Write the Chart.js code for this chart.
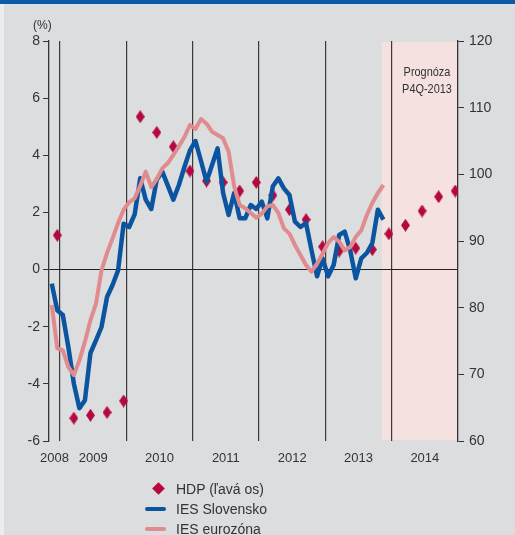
<!DOCTYPE html>
<html>
<head>
<meta charset="utf-8">
<script src="https://cdn.jsdelivr.net/npm/chart.js@4"></script>
<style>
  body { margin: 0; background: #dcdddf; }
  #wrap { position: relative; width: 515px; height: 535px; overflow: hidden; font-family: 'Liberation Sans', Arial, sans-serif; color: #333; }
  #topbar { position: absolute; left: 0; top: 0; width: 515px; height: 4px; background: #0b5ba6; }
  #leftstrip { position: absolute; left: 0; top: 4px; width: 4px; height: 531px; background: #ecedee; }
  canvas { position: absolute; left: 0; top: 0; }
  #unit { position: absolute; left: 33px; top: 18px; font-size: 12px; }
  #prog { position: absolute; left: 387px; top: 63px; width: 80px; text-align: center; font-size: 13px; line-height: 17px; color: #333; transform: scaleX(0.84); transform-origin: 40px 0; }
  #legend { position: absolute; left: 145px; top: 479px; font-size: 14px; }
  #legend div { height: 20px; line-height: 20px; position: relative; padding-left: 31px; }
  .sw { position: absolute; left: 0; top: 8px; width: 21px; height: 4px; border-radius: 2px; }
  .dia { position: absolute; left: 9px; top: 5px; width: 9px; height: 9px; background: #b5083f; transform: rotate(45deg); }
</style>
</head>
<body>
<div id="wrap">
  <div id="leftstrip"></div>
  <canvas id="chart" width="515" height="535"></canvas>
  <div id="topbar"></div>
  <div id="unit">(%)</div>
  <div id="prog">Prognóza<br>P4Q-2013</div>
  <div id="legend">
    <div><span class="dia"></span>HDP (ľavá os)</div>
    <div><span class="sw" style="background:#0b54a0"></span>IES Slovensko</div>
    <div><span class="sw" style="background:#e08c8e"></span>IES eurozóna</div>
  </div>
</div>
<script>
// monthly series start in Nov 2008
const iesStartYear = 2008;
const iesStartMonth = 11;

// IES Slovensko (right axis), Nov 2008 - Nov 2013
const iesSlovensko = [
  83.6, 79.6,
  78.9, 74.1, 68.6, 64.9, 66.1, 73.2, 75.1, 77.1, 81.6, 83.4, 85.6, 92.6,
  92.1, 94.0, 99.4, 96.2, 94.8, 99.2, 100.4, 98.3, 96.2, 98.4, 101.1, 103.6,
  105.0, 102.0, 98.9, 101.4, 103.9, 97.2, 93.9, 97.2, 93.4, 93.4, 95.4, 94.8,
  95.9, 93.4, 98.2, 99.4, 97.9, 96.9, 92.9, 92.1, 92.7, 88.6, 84.7, 87.4,
  84.7, 86.4, 90.9, 91.4, 88.6, 84.4, 87.4, 88.2, 89.7, 94.7, 93.2
];

// IES eurozóna (right axis), Nov 2008 - Nov 2013
const iesEurozona = [
  80.4, 73.9,
  73.6, 71.1, 69.9, 72.1, 74.9, 78.1, 80.6, 85.6, 88.2, 90.4, 92.7, 94.7,
  95.8, 96.4, 98.3, 100.4, 98.1, 99.3, 100.9, 101.7, 102.9, 104.2, 105.6, 107.4,
  106.8, 108.3, 107.6, 106.4, 105.9, 105.4, 103.4, 98.2, 95.4, 94.9, 94.2, 93.5,
  94.1, 95.2, 95.4, 94.2, 91.9, 91.1, 89.4, 87.9, 86.4, 85.4, 86.6, 88.1,
  89.7, 90.6, 89.9, 88.6, 89.1, 90.6, 91.6, 93.9, 95.7, 97.2, 98.4
];

// HDP y/y (left axis), quarterly, forecast from Q4 2013
const hdpQuarters = [
  '2008-Q4',
  '2009-Q1', '2009-Q2', '2009-Q3', '2009-Q4',
  '2010-Q1', '2010-Q2', '2010-Q3', '2010-Q4',
  '2011-Q1', '2011-Q2', '2011-Q3', '2011-Q4',
  '2012-Q1', '2012-Q2', '2012-Q3', '2012-Q4',
  '2013-Q1', '2013-Q2', '2013-Q3', '2013-Q4',
  '2014-Q1', '2014-Q2', '2014-Q3', '2014-Q4'
];
const hdp = [
  1.2,
  -5.2, -5.1, -5.0, -4.6,
  5.35, 4.8, 4.3, 3.45,
  3.1, 3.05, 2.75, 3.05,
  2.6, 2.1, 1.75, 0.8,
  0.65, 0.75, 0.7, 1.25,
  1.55, 2.05, 2.55, 2.75
];

const yearLabels = ['2008', '2009', '2010', '2011', '2012', '2013', '2014'];
const leftTicks = [-6, -4, -2, 0, 2, 4, 6, 8];
const rightTicks = [60, 70, 80, 90, 100, 110, 120];
const forecastStart = 2013.85;

const xMin = iesStartYear + (iesStartMonth - 1) / 12;
const xMax = 2015;

// month index -> position in years (middle of month)
function monthPos(i) {
    return xMin + (i + 0.5) / 12;
}
function quarterPos(q) {
    const [year, qq] = q.split('-Q');
    return Number(year) + (Number(qq) * 3 - 0.5) / 12;
}

// year label sits in the middle of the visible part of the year
const yearTickPos = {};
yearLabels.forEach(y => {
    const a = Math.max(Number(y), xMin);
    const b = Math.min(Number(y) + 1, xMax);
    yearTickPos[((a + b) / 2).toFixed(4)] = y;
});
const xTicks = [];
yearLabels.forEach(y => {
    if (Number(y) > xMin) xTicks.push(Number(y));
});
Object.keys(yearTickPos).forEach(k => xTicks.push(Number(k)));
xTicks.sort((a, b) => a - b);

function diamond(w, h, color) {
    const c = document.createElement('canvas');
    c.width = w;
    c.height = h;
    const g = c.getContext('2d');
    g.fillStyle = color;
    g.beginPath();
    g.moveTo(w / 2, 0);
    g.lineTo(w, h / 2);
    g.lineTo(w / 2, h);
    g.lineTo(0, h / 2);
    g.closePath();
    g.fill();
    return c;
}

// pink forecast band, drawn below grid and data
const forecastBand = {
    id: 'forecastBand',
    beforeDraw(chart) {
        const { ctx, chartArea, scales } = chart;
        const x0 = scales.x.getPixelForValue(forecastStart);
        ctx.save();
        ctx.fillStyle = '#f4e1e0';
        ctx.fillRect(x0, chartArea.top + 1, chartArea.right - x0, chartArea.bottom - chartArea.top - 2);
        ctx.restore();
    }
};

Chart.defaults.font.family = "'Liberation Sans', Arial, sans-serif";
Chart.defaults.color = '#333';

new Chart(document.getElementById('chart').getContext('2d'), {
    type: 'line',
    data: {
        datasets: [
            {
                label: 'IES eurozóna',
                data: iesEurozona.map((v, i) => ({ x: monthPos(i), y: v })),
                yAxisID: 'y1',
                borderColor: '#e08c8e',
                borderWidth: 4,
                pointRadius: 0,
                tension: 0,
                borderJoinStyle: 'round',
            },
            {
                label: 'IES Slovensko',
                data: iesSlovensko.map((v, i) => ({ x: monthPos(i), y: v })),
                yAxisID: 'y1',
                borderColor: '#0b54a0',
                borderWidth: 4.5,
                pointRadius: 0,
                tension: 0,
                borderJoinStyle: 'round',
            },
            {
                label: 'HDP (ľavá os)',
                data: hdp.map((v, i) => ({ x: quarterPos(hdpQuarters[i]), y: v })),
                yAxisID: 'y',
                showLine: false,
                pointStyle: diamond(9, 13, '#b5083f'),
                pointRadius: 6,
                backgroundColor: '#b5083f',
            },
        ],
    },
    options: {
        responsive: false,
        animation: false,
        events: [],
        layout: { padding: { top: 41, bottom: 64, left: 0, right: 0 } },
        plugins: { legend: { display: false }, tooltip: { enabled: false } },
        scales: {
            x: {
                type: 'linear',
                min: xMin,
                max: xMax,
                afterBuildTicks: axis => { axis.ticks = xTicks.map(v => ({ value: v })); },
                afterFit: axis => { axis.height = 30; },
                border: { display: false },
                grid: {
                    color: ctx => Number.isInteger(ctx.tick.value) ? '#3a3a3a' : 'rgba(0,0,0,0)',
                    lineWidth: 1.2,
                    drawTicks: false,
                },
                ticks: {
                    autoSkip: false,
                    maxRotation: 0,
                    padding: 10,
                    font: { size: 13 },
                    callback: v => yearTickPos[Number(v).toFixed(4)] || '',
                },
            },
            y: {
                position: 'left',
                min: -6,
                max: 8,
                afterBuildTicks: axis => { axis.ticks = leftTicks.map(v => ({ value: v })); },
                afterFit: axis => { axis.width = 49; },
                border: { display: true, color: '#333', width: 1.3 },
                grid: {
                    color: ctx => ctx.tick.value === 0 ? '#222' : 'rgba(0,0,0,0)',
                    lineWidth: 1,
                    tickColor: '#333',
                    tickLength: 6,
                },
                ticks: { padding: 3, font: { size: 14 } },
            },
            y1: {
                position: 'right',
                min: 60,
                max: 120,
                afterBuildTicks: axis => { axis.ticks = rightTicks.map(v => ({ value: v })); },
                afterFit: axis => { axis.width = 57; },
                border: { display: true, color: '#333', width: 1.3 },
                grid: { drawOnChartArea: false, tickColor: '#333', tickLength: 6 },
                ticks: { padding: 5, font: { size: 14 } },
            },
        },
    },
    plugins: [forecastBand],
});
</script>
</body>
</html>
